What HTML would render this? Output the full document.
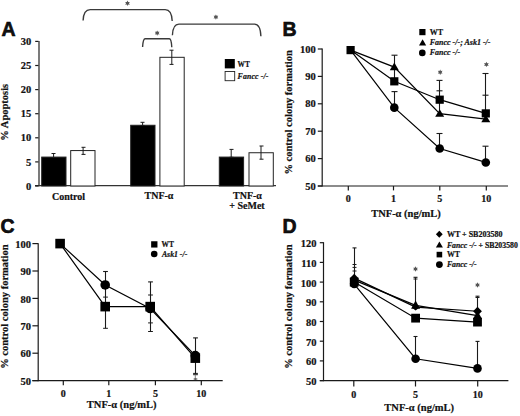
<!DOCTYPE html>
<html><head><meta charset="utf-8"><style>
html,body{margin:0;padding:0;background:#fff;width:520px;height:416px;overflow:hidden}
svg{display:block}
text{fill:#111;stroke:#111;stroke-width:0.2px}
</style></head><body>
<svg width="520" height="416" viewBox="0 0 520 416">
<rect width="520" height="416" fill="#fff"/>
<text x="1.50" y="36.20" text-anchor="start" style="font-family:'Liberation Sans',sans-serif;font-weight:bold;stroke:#000;stroke-width:0.6px;font-size:19.5px" >A</text>
<line x1="39.00" y1="41.00" x2="39.00" y2="186.20" stroke="#333" stroke-width="1.3"/>
<line x1="35.00" y1="185.60" x2="276.00" y2="185.60" stroke="#333" stroke-width="1.1"/>
<line x1="35.20" y1="186.00" x2="38.50" y2="186.00" stroke="#1a1a1a" stroke-width="1.2"/>
<text x="31.20" y="189.60" text-anchor="end" style="font-family:'Liberation Serif',serif;font-weight:bold;font-size:10.5px" >0</text>
<line x1="35.20" y1="161.90" x2="38.50" y2="161.90" stroke="#1a1a1a" stroke-width="1.2"/>
<text x="31.20" y="165.50" text-anchor="end" style="font-family:'Liberation Serif',serif;font-weight:bold;font-size:10.5px" >5</text>
<line x1="35.20" y1="137.80" x2="38.50" y2="137.80" stroke="#1a1a1a" stroke-width="1.2"/>
<text x="31.20" y="141.40" text-anchor="end" style="font-family:'Liberation Serif',serif;font-weight:bold;font-size:10.5px" >10</text>
<line x1="35.20" y1="113.70" x2="38.50" y2="113.70" stroke="#1a1a1a" stroke-width="1.2"/>
<text x="31.20" y="117.30" text-anchor="end" style="font-family:'Liberation Serif',serif;font-weight:bold;font-size:10.5px" >15</text>
<line x1="35.20" y1="89.60" x2="38.50" y2="89.60" stroke="#1a1a1a" stroke-width="1.2"/>
<text x="31.20" y="93.20" text-anchor="end" style="font-family:'Liberation Serif',serif;font-weight:bold;font-size:10.5px" >20</text>
<line x1="35.20" y1="65.50" x2="38.50" y2="65.50" stroke="#1a1a1a" stroke-width="1.2"/>
<text x="31.20" y="69.10" text-anchor="end" style="font-family:'Liberation Serif',serif;font-weight:bold;font-size:10.5px" >25</text>
<line x1="35.20" y1="41.40" x2="38.50" y2="41.40" stroke="#1a1a1a" stroke-width="1.2"/>
<text x="31.20" y="45.00" text-anchor="end" style="font-family:'Liberation Serif',serif;font-weight:bold;font-size:10.5px" >30</text>
<text transform="translate(8.40,112.30) rotate(-90)" text-anchor="middle" style="font-family:'Liberation Serif',serif;font-weight:bold;font-size:10.5px">% Apoptosis</text>
<rect x="41.70" y="157.08" width="24.3" height="28.92" fill="#000" stroke="#222" stroke-width="1"/>
<rect x="70.70" y="150.57" width="24.3" height="35.43" fill="#fff" stroke="#222" stroke-width="1"/>
<rect x="130.70" y="125.27" width="24.3" height="60.73" fill="#000" stroke="#222" stroke-width="1"/>
<rect x="159.90" y="57.31" width="24.3" height="128.69" fill="#fff" stroke="#222" stroke-width="1"/>
<rect x="219.30" y="157.08" width="24.3" height="28.92" fill="#000" stroke="#222" stroke-width="1"/>
<rect x="249.00" y="152.74" width="24.3" height="33.26" fill="#fff" stroke="#222" stroke-width="1"/>
<line x1="53.60" y1="153.50" x2="53.60" y2="157.50" stroke="#1a1a1a" stroke-width="1.0"/>
<line x1="51.50" y1="153.50" x2="55.50" y2="153.50" stroke="#1a1a1a" stroke-width="1.0"/>
<line x1="51.50" y1="157.50" x2="55.50" y2="157.50" stroke="#1a1a1a" stroke-width="1.0"/>
<line x1="83.10" y1="147.30" x2="83.10" y2="154.40" stroke="#1a1a1a" stroke-width="1.0"/>
<line x1="81.50" y1="147.30" x2="85.50" y2="147.30" stroke="#1a1a1a" stroke-width="1.0"/>
<line x1="81.50" y1="154.40" x2="85.50" y2="154.40" stroke="#1a1a1a" stroke-width="1.0"/>
<line x1="142.60" y1="122.30" x2="142.60" y2="125.60" stroke="#1a1a1a" stroke-width="1.0"/>
<line x1="140.50" y1="122.30" x2="144.50" y2="122.30" stroke="#1a1a1a" stroke-width="1.0"/>
<line x1="140.50" y1="125.60" x2="144.50" y2="125.60" stroke="#1a1a1a" stroke-width="1.0"/>
<line x1="171.80" y1="50.20" x2="171.80" y2="64.40" stroke="#1a1a1a" stroke-width="1.0"/>
<line x1="169.50" y1="50.20" x2="173.50" y2="50.20" stroke="#1a1a1a" stroke-width="1.0"/>
<line x1="169.50" y1="64.40" x2="173.50" y2="64.40" stroke="#1a1a1a" stroke-width="1.0"/>
<line x1="231.20" y1="149.40" x2="231.20" y2="157.30" stroke="#1a1a1a" stroke-width="1.0"/>
<line x1="229.50" y1="149.40" x2="233.50" y2="149.40" stroke="#1a1a1a" stroke-width="1.0"/>
<line x1="229.50" y1="157.30" x2="233.50" y2="157.30" stroke="#1a1a1a" stroke-width="1.0"/>
<line x1="261.00" y1="146.00" x2="261.00" y2="159.20" stroke="#1a1a1a" stroke-width="1.0"/>
<line x1="259.50" y1="146.00" x2="263.50" y2="146.00" stroke="#1a1a1a" stroke-width="1.0"/>
<line x1="259.50" y1="159.20" x2="263.50" y2="159.20" stroke="#1a1a1a" stroke-width="1.0"/>
<rect x="224.8" y="59" width="10" height="9.4" fill="#000"/>
<rect x="225.1" y="71.5" width="9.6" height="9.2" fill="#fff" stroke="#222" stroke-width="0.9"/>
<text x="237.60" y="66.50" text-anchor="start" style="font-family:'Liberation Serif',serif;font-weight:bold;font-size:7.3px" >WT</text>
<text x="237.60" y="78.60" text-anchor="start" style="font-family:'Liberation Serif',serif;font-weight:bold;font-size:7.8px;font-style:italic" letter-spacing="0.15">Fancc -/-</text>
<path d="M83.10,20.50 C83.40,13.41 85.55,9.60 90.10,9.60 L165.20,9.60 C169.75,9.60 171.90,13.59 172.20,21.00" fill="none" stroke="#3a3a3a" stroke-width="1.4"/>
<path d="M142.60,47.00 C142.90,41.67 143.47,38.80 145.10,38.80 L169.30,38.80 C170.93,38.80 171.50,41.77 171.80,47.30" fill="none" stroke="#3a3a3a" stroke-width="1.4"/>
<path d="M172.40,35.20 C172.70,27.99 174.68,24.10 178.90,24.10 L254.40,24.10 C258.62,24.10 260.60,28.37 260.90,36.30" fill="none" stroke="#3a3a3a" stroke-width="1.4"/>
<polygon points="127.50,0.60 128.22,2.04 129.84,1.95 128.95,3.30 129.84,4.65 128.22,4.56 127.50,6.00 126.78,4.56 125.16,4.65 126.05,3.30 125.16,1.95 126.78,2.04" fill="#555"/>
<polygon points="157.20,30.40 157.92,31.84 159.54,31.75 158.65,33.10 159.54,34.45 157.92,34.36 157.20,35.80 156.47,34.36 154.86,34.45 155.75,33.10 154.86,31.75 156.47,31.84" fill="#555"/>
<polygon points="215.90,14.40 216.62,15.84 218.24,15.75 217.35,17.10 218.24,18.45 216.62,18.36 215.90,19.80 215.18,18.36 213.56,18.45 214.45,17.10 213.56,15.75 215.18,15.84" fill="#555"/>
<text x="68.50" y="199.60" text-anchor="middle" style="font-family:'Liberation Serif',serif;font-weight:bold;font-size:10px" >Control</text>
<text x="159.00" y="199.30" text-anchor="middle" style="font-family:'Liberation Serif',serif;font-weight:bold;font-size:10px" >TNF-α</text>
<text x="247.50" y="198.70" text-anchor="middle" style="font-family:'Liberation Serif',serif;font-weight:bold;font-size:10px" >TNF-α</text>
<text x="247.00" y="208.80" text-anchor="middle" style="font-family:'Liberation Serif',serif;font-weight:bold;font-size:10px" >+ SeMet</text>
<text x="282.60" y="36.20" text-anchor="start" style="font-family:'Liberation Sans',sans-serif;font-weight:bold;stroke:#000;stroke-width:0.6px;font-size:19.5px" >B</text>
<line x1="322.20" y1="48.50" x2="322.20" y2="186.60" stroke="#1a1a1a" stroke-width="1.2"/>
<line x1="317.80" y1="186.00" x2="508.00" y2="186.00" stroke="#1a1a1a" stroke-width="1.2"/>
<line x1="317.80" y1="186.00" x2="322.20" y2="186.00" stroke="#1a1a1a" stroke-width="1.2"/>
<text x="315.80" y="189.60" text-anchor="end" style="font-family:'Liberation Serif',serif;font-weight:bold;font-size:10.5px" >50</text>
<line x1="317.80" y1="158.60" x2="322.20" y2="158.60" stroke="#1a1a1a" stroke-width="1.2"/>
<text x="315.80" y="162.20" text-anchor="end" style="font-family:'Liberation Serif',serif;font-weight:bold;font-size:10.5px" >60</text>
<line x1="317.80" y1="131.20" x2="322.20" y2="131.20" stroke="#1a1a1a" stroke-width="1.2"/>
<text x="315.80" y="134.80" text-anchor="end" style="font-family:'Liberation Serif',serif;font-weight:bold;font-size:10.5px" >70</text>
<line x1="317.80" y1="103.80" x2="322.20" y2="103.80" stroke="#1a1a1a" stroke-width="1.2"/>
<text x="315.80" y="107.40" text-anchor="end" style="font-family:'Liberation Serif',serif;font-weight:bold;font-size:10.5px" >80</text>
<line x1="317.80" y1="76.40" x2="322.20" y2="76.40" stroke="#1a1a1a" stroke-width="1.2"/>
<text x="315.80" y="80.00" text-anchor="end" style="font-family:'Liberation Serif',serif;font-weight:bold;font-size:10.5px" >90</text>
<line x1="317.80" y1="49.00" x2="322.20" y2="49.00" stroke="#1a1a1a" stroke-width="1.2"/>
<text x="315.80" y="52.60" text-anchor="end" style="font-family:'Liberation Serif',serif;font-weight:bold;font-size:10.5px" >100</text>
<line x1="348.30" y1="186.00" x2="348.30" y2="190.40" stroke="#1a1a1a" stroke-width="1.2"/>
<text x="348.30" y="202.00" text-anchor="middle" style="font-family:'Liberation Serif',serif;font-weight:bold;font-size:10px" >0</text>
<line x1="393.50" y1="186.00" x2="393.50" y2="190.40" stroke="#1a1a1a" stroke-width="1.2"/>
<text x="393.50" y="202.00" text-anchor="middle" style="font-family:'Liberation Serif',serif;font-weight:bold;font-size:10px" >1</text>
<line x1="439.80" y1="186.00" x2="439.80" y2="190.40" stroke="#1a1a1a" stroke-width="1.2"/>
<text x="439.80" y="202.00" text-anchor="middle" style="font-family:'Liberation Serif',serif;font-weight:bold;font-size:10px" >5</text>
<line x1="486.30" y1="186.00" x2="486.30" y2="190.40" stroke="#1a1a1a" stroke-width="1.2"/>
<text x="486.30" y="202.00" text-anchor="middle" style="font-family:'Liberation Serif',serif;font-weight:bold;font-size:10px" >10</text>
<text x="406.00" y="216.50" text-anchor="middle" style="font-family:'Liberation Serif',serif;font-weight:bold;font-size:10.5px" >TNF-α (ng/mL)</text>
<text transform="translate(291.50,112.40) rotate(-90)" text-anchor="middle" style="font-family:'Liberation Serif',serif;font-weight:bold;font-size:10.5px">% control colony formation</text>
<polyline points="350.60,50.10 394.30,81.33 439.70,99.69 485.80,113.39" fill="none" stroke="#000" stroke-width="1.2"/>
<polyline points="350.60,50.10 394.30,67.08 439.70,113.66 485.80,119.14" fill="none" stroke="#000" stroke-width="1.2"/>
<polyline points="350.60,50.10 394.30,107.64 439.70,148.46 485.80,162.44" fill="none" stroke="#000" stroke-width="1.2"/>
<line x1="394.50" y1="55.20" x2="394.50" y2="82.00" stroke="#1a1a1a" stroke-width="1.1"/>
<line x1="391.50" y1="55.20" x2="397.50" y2="55.20" stroke="#1a1a1a" stroke-width="1.1"/>
<line x1="394.50" y1="91.60" x2="394.50" y2="104.00" stroke="#1a1a1a" stroke-width="1.1"/>
<line x1="391.50" y1="91.60" x2="397.50" y2="91.60" stroke="#1a1a1a" stroke-width="1.1"/>
<line x1="439.50" y1="80.40" x2="439.50" y2="113.00" stroke="#1a1a1a" stroke-width="1.1"/>
<line x1="436.50" y1="80.40" x2="442.50" y2="80.40" stroke="#1a1a1a" stroke-width="1.1"/>
<line x1="436.50" y1="90.80" x2="442.50" y2="90.80" stroke="#1a1a1a" stroke-width="1.1"/>
<line x1="485.50" y1="73.50" x2="485.50" y2="119.00" stroke="#1a1a1a" stroke-width="1.1"/>
<line x1="482.50" y1="73.50" x2="488.50" y2="73.50" stroke="#1a1a1a" stroke-width="1.1"/>
<line x1="482.50" y1="95.20" x2="488.50" y2="95.20" stroke="#1a1a1a" stroke-width="1.1"/>
<line x1="439.50" y1="133.50" x2="439.50" y2="146.00" stroke="#1a1a1a" stroke-width="1.1"/>
<line x1="436.50" y1="133.50" x2="442.50" y2="133.50" stroke="#1a1a1a" stroke-width="1.1"/>
<line x1="485.50" y1="146.20" x2="485.50" y2="160.00" stroke="#1a1a1a" stroke-width="1.1"/>
<line x1="482.50" y1="146.20" x2="488.50" y2="146.20" stroke="#1a1a1a" stroke-width="1.1"/>
<polygon points="440.20,69.50 440.93,70.94 442.54,70.85 441.65,72.20 442.54,73.55 440.93,73.46 440.20,74.90 439.47,73.46 437.86,73.55 438.75,72.20 437.86,70.85 439.47,70.94" fill="#555"/>
<polygon points="486.40,61.70 487.12,63.14 488.74,63.05 487.85,64.40 488.74,65.75 487.12,65.66 486.40,67.10 485.67,65.66 484.06,65.75 484.95,64.40 484.06,63.05 485.67,63.14" fill="#555"/>
<rect x="346.50" y="46.00" width="8.20" height="8.20" fill="#000"/>
<polygon points="394.30,62.58 398.80,70.28 389.80,70.28" fill="#000"/>
<circle cx="394.30" cy="107.64" r="4.30" fill="#000"/>
<rect x="390.20" y="77.23" width="8.20" height="8.20" fill="#000"/>
<polygon points="439.70,109.16 444.20,116.86 435.20,116.86" fill="#000"/>
<circle cx="439.70" cy="148.46" r="4.30" fill="#000"/>
<rect x="435.60" y="95.59" width="8.20" height="8.20" fill="#000"/>
<polygon points="485.80,114.64 490.30,122.34 481.30,122.34" fill="#000"/>
<circle cx="485.80" cy="162.44" r="4.30" fill="#000"/>
<rect x="481.70" y="109.29" width="8.20" height="8.20" fill="#000"/>
<rect x="419.30" y="29.00" width="6.20" height="6.20" fill="#000"/>
<text x="429.70" y="34.70" text-anchor="start" style="font-family:'Liberation Serif',serif;font-weight:bold;font-size:8px" >WT</text>
<polygon points="422.60,39.20 426.20,45.40 419.00,45.40" fill="#000"/>
<text x="429.70" y="45.00" text-anchor="start" style="font-family:'Liberation Serif',serif;font-weight:bold;font-size:8px;font-style:italic" >Fancc -/-; Ask1 -/-</text>
<circle cx="422.30" cy="52.90" r="3.30" fill="#000"/>
<text x="429.70" y="55.10" text-anchor="start" style="font-family:'Liberation Serif',serif;font-weight:bold;font-size:8px;font-style:italic" >Fancc -/-</text>
<text x="0.60" y="232.50" text-anchor="start" style="font-family:'Liberation Sans',sans-serif;font-weight:bold;stroke:#000;stroke-width:0.6px;font-size:19.5px" >C</text>
<line x1="38.20" y1="243.20" x2="38.20" y2="381.20" stroke="#1a1a1a" stroke-width="1.2"/>
<line x1="32.40" y1="380.60" x2="222.70" y2="380.60" stroke="#1a1a1a" stroke-width="1.2"/>
<line x1="32.40" y1="380.60" x2="38.20" y2="380.60" stroke="#1a1a1a" stroke-width="1.2"/>
<text x="31.00" y="384.80" text-anchor="end" style="font-family:'Liberation Serif',serif;font-weight:bold;font-size:10.5px" >50</text>
<line x1="32.40" y1="353.20" x2="38.20" y2="353.20" stroke="#1a1a1a" stroke-width="1.2"/>
<text x="31.00" y="357.40" text-anchor="end" style="font-family:'Liberation Serif',serif;font-weight:bold;font-size:10.5px" >60</text>
<line x1="32.40" y1="325.80" x2="38.20" y2="325.80" stroke="#1a1a1a" stroke-width="1.2"/>
<text x="31.00" y="330.00" text-anchor="end" style="font-family:'Liberation Serif',serif;font-weight:bold;font-size:10.5px" >70</text>
<line x1="32.40" y1="298.40" x2="38.20" y2="298.40" stroke="#1a1a1a" stroke-width="1.2"/>
<text x="31.00" y="302.60" text-anchor="end" style="font-family:'Liberation Serif',serif;font-weight:bold;font-size:10.5px" >80</text>
<line x1="32.40" y1="271.00" x2="38.20" y2="271.00" stroke="#1a1a1a" stroke-width="1.2"/>
<text x="31.00" y="275.20" text-anchor="end" style="font-family:'Liberation Serif',serif;font-weight:bold;font-size:10.5px" >90</text>
<line x1="32.40" y1="243.60" x2="38.20" y2="243.60" stroke="#1a1a1a" stroke-width="1.2"/>
<text x="31.00" y="247.80" text-anchor="end" style="font-family:'Liberation Serif',serif;font-weight:bold;font-size:10.5px" >100</text>
<line x1="63.30" y1="380.60" x2="63.30" y2="385.20" stroke="#1a1a1a" stroke-width="1.2"/>
<text x="63.30" y="396.60" text-anchor="middle" style="font-family:'Liberation Serif',serif;font-weight:bold;font-size:10px" >0</text>
<line x1="108.80" y1="380.60" x2="108.80" y2="385.20" stroke="#1a1a1a" stroke-width="1.2"/>
<text x="108.80" y="396.60" text-anchor="middle" style="font-family:'Liberation Serif',serif;font-weight:bold;font-size:10px" >1</text>
<line x1="155.40" y1="380.60" x2="155.40" y2="385.20" stroke="#1a1a1a" stroke-width="1.2"/>
<text x="155.40" y="396.60" text-anchor="middle" style="font-family:'Liberation Serif',serif;font-weight:bold;font-size:10px" >5</text>
<line x1="201.30" y1="380.60" x2="201.30" y2="385.20" stroke="#1a1a1a" stroke-width="1.2"/>
<text x="201.30" y="396.60" text-anchor="middle" style="font-family:'Liberation Serif',serif;font-weight:bold;font-size:10px" >10</text>
<text x="121.70" y="408.20" text-anchor="middle" style="font-family:'Liberation Serif',serif;font-weight:bold;font-size:10.5px" >TNF-α (ng/mL)</text>
<text transform="translate(8.00,306.60) rotate(-90)" text-anchor="middle" style="font-family:'Liberation Serif',serif;font-weight:bold;font-size:10.5px">% control colony formation</text>
<polyline points="60.10,243.60 105.20,306.62 150.20,306.62 195.30,358.13" fill="none" stroke="#000" stroke-width="1.2"/>
<polyline points="60.10,243.60 105.20,284.97 150.20,308.54 195.30,355.67" fill="none" stroke="#000" stroke-width="1.2"/>
<line x1="105.50" y1="271.50" x2="105.50" y2="328.30" stroke="#1a1a1a" stroke-width="1.1"/>
<line x1="103.10" y1="271.50" x2="107.90" y2="271.50" stroke="#1a1a1a" stroke-width="1.1"/>
<line x1="103.10" y1="297.10" x2="107.90" y2="297.10" stroke="#1a1a1a" stroke-width="1.0"/>
<line x1="103.10" y1="328.30" x2="107.90" y2="328.30" stroke="#1a1a1a" stroke-width="1.0"/>
<line x1="150.50" y1="281.90" x2="150.50" y2="331.50" stroke="#1a1a1a" stroke-width="1.1"/>
<line x1="148.10" y1="281.90" x2="152.90" y2="281.90" stroke="#1a1a1a" stroke-width="1.1"/>
<line x1="148.10" y1="295.00" x2="152.90" y2="295.00" stroke="#1a1a1a" stroke-width="1.0"/>
<line x1="148.10" y1="322.90" x2="152.90" y2="322.90" stroke="#1a1a1a" stroke-width="1.0"/>
<line x1="148.10" y1="331.50" x2="152.90" y2="331.50" stroke="#1a1a1a" stroke-width="1.0"/>
<line x1="195.50" y1="337.90" x2="195.50" y2="374.50" stroke="#1a1a1a" stroke-width="1.1"/>
<line x1="193.10" y1="337.90" x2="197.90" y2="337.90" stroke="#1a1a1a" stroke-width="1.1"/>
<line x1="193.10" y1="373.40" x2="197.90" y2="373.40" stroke="#1a1a1a" stroke-width="1.0"/>
<line x1="193.10" y1="374.70" x2="197.90" y2="374.70" stroke="#1a1a1a" stroke-width="1.0"/>
<line x1="195.30" y1="374.50" x2="195.30" y2="380.00" stroke="#777" stroke-width="0.9"/>
<line x1="193.70" y1="379.00" x2="197.30" y2="379.00" stroke="#1a1a1a" stroke-width="0.9"/>
<rect x="55.30" y="238.80" width="9.60" height="9.60" fill="#000"/>
<circle cx="105.20" cy="284.97" r="4.80" fill="#000"/>
<rect x="100.40" y="301.82" width="9.60" height="9.60" fill="#000"/>
<circle cx="150.20" cy="308.54" r="4.80" fill="#000"/>
<rect x="145.40" y="301.82" width="9.60" height="9.60" fill="#000"/>
<circle cx="195.30" cy="355.67" r="4.80" fill="#000"/>
<rect x="190.50" y="353.33" width="9.60" height="9.60" fill="#000"/>
<rect x="151.15" y="241.25" width="6.30" height="6.30" fill="#000"/>
<text x="161.50" y="247.20" text-anchor="start" style="font-family:'Liberation Serif',serif;font-weight:bold;font-size:7.4px" >WT</text>
<circle cx="154.20" cy="254.00" r="3.30" fill="#000"/>
<text x="161.90" y="256.60" text-anchor="start" style="font-family:'Liberation Serif',serif;font-weight:bold;font-size:7.8px;font-style:italic" >Ask1 -/-</text>
<text x="282.60" y="232.50" text-anchor="start" style="font-family:'Liberation Sans',sans-serif;font-weight:bold;stroke:#000;stroke-width:0.6px;font-size:19.5px" >D</text>
<line x1="323.50" y1="242.20" x2="323.50" y2="381.20" stroke="#1a1a1a" stroke-width="1.2"/>
<line x1="319.80" y1="380.60" x2="508.40" y2="380.60" stroke="#1a1a1a" stroke-width="1.2"/>
<line x1="319.80" y1="380.60" x2="323.50" y2="380.60" stroke="#1a1a1a" stroke-width="1.2"/>
<text x="316.40" y="385.00" text-anchor="end" style="font-family:'Liberation Serif',serif;font-weight:bold;font-size:10.5px" >50</text>
<line x1="319.80" y1="360.90" x2="323.50" y2="360.90" stroke="#1a1a1a" stroke-width="1.2"/>
<text x="316.40" y="365.30" text-anchor="end" style="font-family:'Liberation Serif',serif;font-weight:bold;font-size:10.5px" >60</text>
<line x1="319.80" y1="341.20" x2="323.50" y2="341.20" stroke="#1a1a1a" stroke-width="1.2"/>
<text x="316.40" y="345.60" text-anchor="end" style="font-family:'Liberation Serif',serif;font-weight:bold;font-size:10.5px" >70</text>
<line x1="319.80" y1="321.50" x2="323.50" y2="321.50" stroke="#1a1a1a" stroke-width="1.2"/>
<text x="316.40" y="325.90" text-anchor="end" style="font-family:'Liberation Serif',serif;font-weight:bold;font-size:10.5px" >80</text>
<line x1="319.80" y1="301.80" x2="323.50" y2="301.80" stroke="#1a1a1a" stroke-width="1.2"/>
<text x="316.40" y="306.20" text-anchor="end" style="font-family:'Liberation Serif',serif;font-weight:bold;font-size:10.5px" >90</text>
<line x1="319.80" y1="282.10" x2="323.50" y2="282.10" stroke="#1a1a1a" stroke-width="1.2"/>
<text x="316.40" y="286.50" text-anchor="end" style="font-family:'Liberation Serif',serif;font-weight:bold;font-size:10.5px" >100</text>
<line x1="319.80" y1="262.40" x2="323.50" y2="262.40" stroke="#1a1a1a" stroke-width="1.2"/>
<text x="316.40" y="266.80" text-anchor="end" style="font-family:'Liberation Serif',serif;font-weight:bold;font-size:10.5px" >110</text>
<line x1="319.80" y1="242.70" x2="323.50" y2="242.70" stroke="#1a1a1a" stroke-width="1.2"/>
<text x="316.40" y="247.10" text-anchor="end" style="font-family:'Liberation Serif',serif;font-weight:bold;font-size:10.5px" >120</text>
<line x1="353.80" y1="380.60" x2="353.80" y2="386.50" stroke="#1a1a1a" stroke-width="1.2"/>
<text x="353.80" y="398.00" text-anchor="middle" style="font-family:'Liberation Serif',serif;font-weight:bold;font-size:10px" >0</text>
<line x1="415.50" y1="380.60" x2="415.50" y2="386.50" stroke="#1a1a1a" stroke-width="1.2"/>
<text x="415.50" y="398.00" text-anchor="middle" style="font-family:'Liberation Serif',serif;font-weight:bold;font-size:10px" >5</text>
<line x1="477.70" y1="380.60" x2="477.70" y2="386.50" stroke="#1a1a1a" stroke-width="1.2"/>
<text x="477.70" y="398.00" text-anchor="middle" style="font-family:'Liberation Serif',serif;font-weight:bold;font-size:10px" >10</text>
<text x="419.20" y="411.40" text-anchor="middle" style="font-family:'Liberation Serif',serif;font-weight:bold;font-size:10.5px" >TNF-α (ng/mL)</text>
<text transform="translate(291.90,306.60) rotate(-90)" text-anchor="middle" style="font-family:'Liberation Serif',serif;font-weight:bold;font-size:10.5px">% control colony formation</text>
<polyline points="354.20,278.16 415.60,307.12 477.50,311.26" fill="none" stroke="#000" stroke-width="1.2"/>
<polyline points="354.20,280.13 415.60,305.35 477.50,315.59" fill="none" stroke="#000" stroke-width="1.2"/>
<polyline points="354.20,282.10 415.60,318.15 477.50,322.09" fill="none" stroke="#000" stroke-width="1.2"/>
<polyline points="354.20,284.07 415.60,358.73 477.50,368.39" fill="none" stroke="#000" stroke-width="1.2"/>
<line x1="354.50" y1="247.90" x2="354.50" y2="280.00" stroke="#1a1a1a" stroke-width="1.1"/>
<line x1="352.50" y1="247.90" x2="356.50" y2="247.90" stroke="#1a1a1a" stroke-width="1.1"/>
<line x1="352.50" y1="264.50" x2="356.50" y2="264.50" stroke="#1a1a1a" stroke-width="1.0"/>
<line x1="352.50" y1="267.40" x2="356.50" y2="267.40" stroke="#1a1a1a" stroke-width="1.0"/>
<line x1="352.50" y1="271.00" x2="356.50" y2="271.00" stroke="#1a1a1a" stroke-width="1.0"/>
<line x1="415.50" y1="277.30" x2="415.50" y2="310.00" stroke="#1a1a1a" stroke-width="1.1"/>
<line x1="413.50" y1="277.30" x2="417.50" y2="277.30" stroke="#1a1a1a" stroke-width="1.1"/>
<line x1="413.50" y1="279.00" x2="417.50" y2="279.00" stroke="#1a1a1a" stroke-width="1.0"/>
<line x1="477.50" y1="296.20" x2="477.50" y2="315.00" stroke="#1a1a1a" stroke-width="1.1"/>
<line x1="475.50" y1="296.20" x2="479.50" y2="296.20" stroke="#1a1a1a" stroke-width="1.1"/>
<line x1="475.50" y1="297.50" x2="479.50" y2="297.50" stroke="#1a1a1a" stroke-width="1.0"/>
<line x1="415.50" y1="336.50" x2="415.50" y2="355.00" stroke="#1a1a1a" stroke-width="1.1"/>
<line x1="413.50" y1="336.50" x2="417.50" y2="336.50" stroke="#1a1a1a" stroke-width="1.1"/>
<line x1="477.50" y1="341.40" x2="477.50" y2="365.00" stroke="#1a1a1a" stroke-width="1.1"/>
<line x1="475.50" y1="341.40" x2="479.50" y2="341.40" stroke="#1a1a1a" stroke-width="1.1"/>
<polygon points="415.50,266.30 416.23,267.74 417.84,267.65 416.95,269.00 417.84,270.35 416.23,270.26 415.50,271.70 414.77,270.26 413.16,270.35 414.05,269.00 413.16,267.65 414.77,267.74" fill="#555"/>
<polygon points="477.50,282.30 478.23,283.74 479.84,283.65 478.95,285.00 479.84,286.35 478.23,286.26 477.50,287.70 476.77,286.26 475.16,286.35 476.05,285.00 475.16,283.65 476.77,283.74" fill="#555"/>
<polygon points="354.20,273.76 358.60,278.16 354.20,282.56 349.80,278.16" fill="#000"/>
<polygon points="354.20,275.33 358.70,283.53 349.70,283.53" fill="#000"/>
<rect x="349.80" y="277.70" width="8.80" height="8.80" fill="#000"/>
<circle cx="354.20" cy="284.07" r="4.30" fill="#000"/>
<polygon points="415.60,304.22 419.40,307.42 415.60,310.62 411.80,307.42" fill="#000"/>
<polygon points="415.60,300.55 420.10,308.75 411.10,308.75" fill="#000"/>
<rect x="411.20" y="313.75" width="8.80" height="8.80" fill="#000"/>
<circle cx="415.60" cy="358.73" r="4.30" fill="#000"/>
<polygon points="477.50,306.86 481.90,311.26 477.50,315.66 473.10,311.26" fill="#000"/>
<polygon points="477.50,310.79 482.00,318.99 473.00,318.99" fill="#000"/>
<rect x="473.10" y="317.69" width="8.80" height="8.80" fill="#000"/>
<circle cx="477.50" cy="368.39" r="4.30" fill="#000"/>
<polygon points="439.30,230.80 442.70,234.30 439.30,237.80 435.90,234.30" fill="#000"/>
<text x="446.90" y="237.20" text-anchor="start" style="font-family:'Liberation Serif',serif;font-weight:bold;font-size:8px" >WT + SB203580</text>
<polygon points="439.40,241.60 442.90,247.60 435.90,247.60" fill="#000"/>
<text x="446.9" y="247.6" style="font-family:'Liberation Serif',serif;font-weight:bold;font-size:7.8px"><tspan style="font-style:italic">Fancc -/-</tspan> + SB203580</text>
<rect x="436.60" y="251.80" width="5.60" height="5.60" fill="#000"/>
<text x="446.90" y="257.30" text-anchor="start" style="font-family:'Liberation Serif',serif;font-weight:bold;font-size:7.8px" >WT</text>
<circle cx="439.40" cy="264.60" r="3.40" fill="#000"/>
<text x="446.90" y="267.30" text-anchor="start" style="font-family:'Liberation Serif',serif;font-weight:bold;font-size:7.8px;font-style:italic" >Fancc -/-</text>
</svg>
</body></html>
